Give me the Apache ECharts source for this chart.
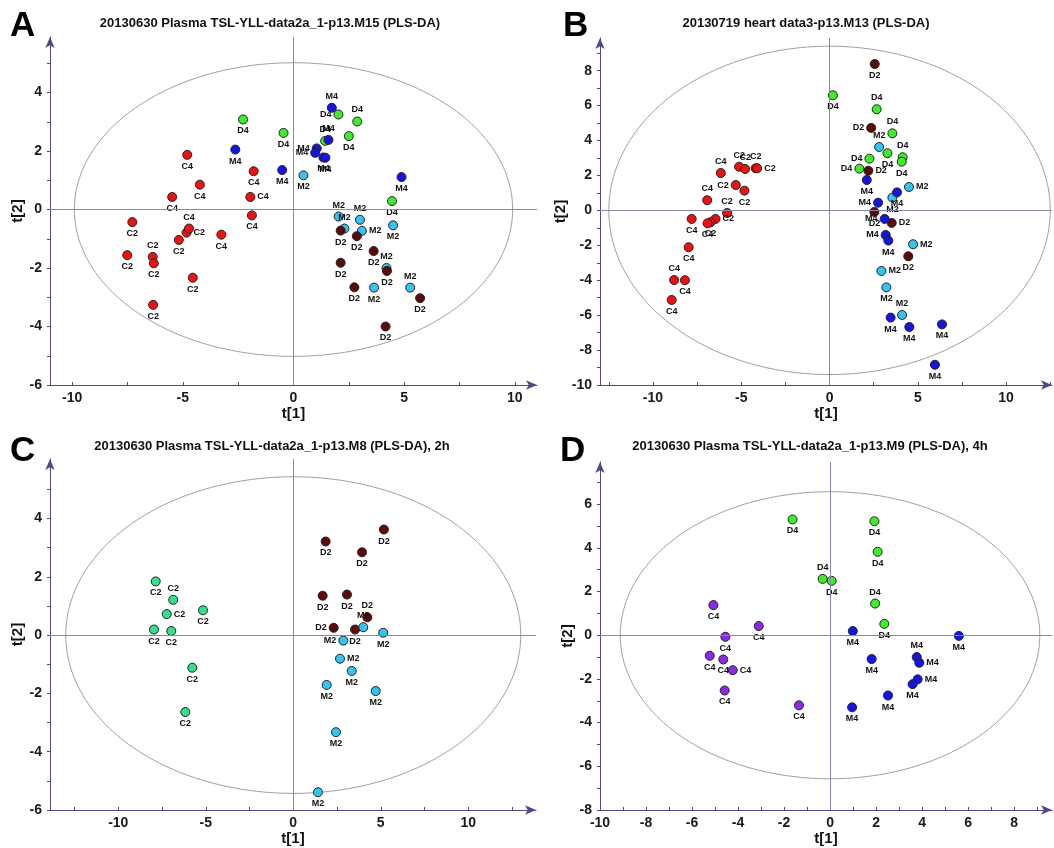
<!DOCTYPE html>
<html><head><meta charset="utf-8">
<script src="https://cdn.jsdelivr.net/npm/echarts@6/dist/echarts.min.js"></script>
<style>html,body{margin:0;padding:0;background:#fff}#c{width:1054px;height:848px}</style>
</head><body><div id="c"></div>
<script>
// ---------- Panel A ----------
const titleA = '20130630 Plasma TSL-YLL-data2a_1-p13.M15 (PLS-DA)';
const A_C2 = [[-7.28,-0.43],[-5.18,-1.04],[-7.51,-1.56],[-6.36,-1.62],[-6.31,-1.84],[-4.55,-2.33],[-6.34,-3.26],[-4.83,-0.79]];
const A_C4 = [[-4.8,1.87],[-1.8,1.31],[-4.23,0.85],[-5.48,0.43],[-1.95,0.43],[-1.88,-0.2],[-4.72,-0.65],[-3.26,-0.86]];
const A_D4 = [[-2.28,3.08],[-0.45,2.62],[2.03,3.25],[2.88,3.01],[1.43,2.35],[2.5,2.51],[4.45,0.29]];
const A_M4 = [[-2.63,2.05],[-0.51,1.35],[1.73,3.48],[1.58,2.38],[1.05,2.09],[0.98,1.94],[1.35,1.78],[1.44,1.77],[4.88,1.11]];
const A_M2 = [[0.45,1.17],[2.04,-0.24],[3.0,-0.35],[2.3,-0.65],[3.09,-0.73],[4.5,-0.54],[4.2,-2.0],[3.64,-2.67],[5.27,-2.67]];
const A_D2 = [[2.13,-0.72],[2.86,-0.91],[3.62,-1.42],[2.13,-1.82],[4.22,-2.1],[2.75,-2.66],[5.72,-3.03],[4.16,-4.0]];
const ellipseA = [9.9, 5.02];
const xTicksA = [-10,-7.5,-5,-2.5,0,2.5,5,7.5,10];
const xLabelsA = [-10,-5,0,5,10];
const yTicksA = [-6,-5,-4,-3,-2,-1,0,1,2,3,4,5];
const yLabelsA = [-6,-4,-2,0,2,4];

// ---------- Panel B ----------
const titleB = '20130719 heart data3-p13.M13 (PLS-DA)';
const B_C2 = [[-5.12,2.5],[-4.78,2.37],[-4.18,2.41],[-4.1,2.41],[-5.31,1.45],[-4.82,1.13],[-5.8,-0.15],[-6.46,-0.49],[-6.74,-0.68]];
const B_C4 = [[-6.16,2.14],[-6.93,0.58],[-7.81,-0.49],[-6.91,-0.74],[-7.98,-2.11],[-8.8,-3.99],[-8.19,-4.0],[-8.94,-5.13]];
const B_D2 = [[2.56,8.38],[2.36,4.72],[2.2,2.27],[2.54,-0.09],[3.52,-0.72],[4.46,-2.63]];
const B_D4 = [[0.19,6.59],[2.67,5.79],[3.56,4.41],[3.28,3.27],[4.14,3.04],[4.09,2.79],[2.26,2.96],[1.69,2.39]];
const B_M2 = [[2.81,3.63],[4.5,1.34],[3.56,0.73],[4.73,-1.94],[2.94,-3.47],[3.22,-4.41],[4.11,-5.99]];
const B_M4 = [[2.11,1.74],[3.82,1.03],[2.75,0.44],[3.12,-0.49],[3.18,-1.41],[3.33,-1.73],[3.46,-6.14],[4.52,-6.68],[6.37,-6.53],[5.97,-8.84]];
const ellipseB = [12.5, 9.4];
const xTicksB = [-12.5,-10,-7.5,-5,-2.5,0,2.5,5,7.5,10,12.5];
const xLabelsB = [-10,-5,0,5,10];
const yTicksB = [-10,-9,-8,-7,-6,-5,-4,-3,-2,-1,0,1,2,3,4,5,6,7,8,9];
const yLabelsB = [-10,-8,-6,-4,-2,0,2,4,6,8];

// ---------- Panel C ----------
const titleC = '20130630 Plasma TSL-YLL-data2a_1-p13.M8 (PLS-DA), 2h';
const C_C2 = [[-7.86,1.84],[-6.86,1.21],[-7.23,0.72],[-5.16,0.85],[-7.96,0.19],[-6.97,0.14],[-5.77,-1.12],[-6.17,-2.64]];
const C_D2 = [[5.18,3.62],[1.85,3.21],[3.93,2.84],[1.68,1.35],[3.07,1.39],[4.23,0.61],[2.31,0.25],[3.53,0.19]];
const C_M2 = [[4.0,0.27],[5.14,0.08],[2.86,-0.19],[2.67,-0.81],[3.34,-1.23],[1.91,-1.71],[4.71,-1.92],[2.44,-3.33],[1.41,-5.39]];
const ellipseC = [13.0, 5.43];
const xTicksC = [-12.5,-10,-7.5,-5,-2.5,0,2.5,5,7.5,10,12.5];
const xLabelsC = [-10,-5,0,5,10];
const yTicksC = [-6,-5,-4,-3,-2,-1,0,1,2,3,4,5];
const yLabelsC = [-6,-4,-2,0,2,4];

// ---------- Panel D ----------
const titleD = '20130630 Plasma TSL-YLL-data2a_1-p13.M9 (PLS-DA), 4h';
const D_C4 = [[-5.07,1.38],[-3.1,0.42],[-4.55,-0.07],[-5.23,-0.94],[-4.64,-1.11],[-4.23,-1.6],[-4.58,-2.53],[-1.35,-3.21]];
const D_D4 = [[-1.63,5.3],[1.93,5.22],[2.07,3.82],[-0.32,2.58],[0.07,2.49],[1.96,1.45],[2.36,0.52]];
const D_M4 = [[0.99,0.19],[5.6,-0.03],[3.77,-1.0],[3.88,-1.26],[1.81,-1.09],[3.81,-2.02],[3.59,-2.24],[2.52,-2.76],[0.96,-3.3]];
const ellipseD = [9.12, 6.57];
const xTicksD = [-10,-9,-8,-7,-6,-5,-4,-3,-2,-1,0,1,2,3,4,5,6,7,8,9];
const xLabelsD = [-10,-8,-6,-4,-2,0,2,4,6,8];
const yTicksD = [-8,-7,-6,-5,-4,-3,-2,-1,0,1,2,3,4,5,6,7];
const yLabelsD = [-8,-6,-4,-2,0,2,4,6];

// ---------- point-label placement (style only; default is below the point) ----------
const labelPlacement = {
  A_C2:{3:'top',7:'right'},
  A_C4:{4:'right',6:'top'},
  A_D4:{2:'left',3:'top',4:'top'},
  A_M4:{2:'top',3:'top',4:'left',5:'left'},
  A_M2:{1:'top',2:'top',3:'top',4:'right',6:'top',8:'top'},
  B_C2:{0:'top',1:'top',2:'top',3:'right',4:'left',6:'top',7:'right'},
  B_C4:{0:'top',1:'top',5:'top'},
  B_D2:{1:'left',2:'right',4:'right'},
  B_D4:{1:'top',2:'top',4:'top',6:'left',7:'left'},
  B_M2:{0:'top',1:'right',3:'right',4:'right',6:'top'},
  B_M4:{2:'left',3:'left',4:'left'},
  C_C2:{1:'top',2:'right'},
  C_D2:{5:'top',6:'left'},
  C_M2:{0:'top',2:'left',3:'right'},
  D_C4:{5:'right'},
  D_D4:{3:'top',5:'top'},
  D_M4:{2:'top',3:'right',5:'right'}
};

// ---------- styling / layout ----------
const FONT = '"Liberation Sans", Arial, sans-serif';
const COL = {
  red:'#ee1111', green:'#3fee2a', blue:'#1414e6', cyan:'#35c3f2', maroon:'#5c0a0a',
  mint:'#33e08c', purple:'#8c2ae8'
};
const AXIS_COL = '#4b4b85';

const panels = [
  { grid:{left:50, top:37, width:487, height:348}, x:[-11,11], y:[-6,5.9],
    xTicks:xTicksA, xLabels:xLabelsA, yTicks:yTicksA, yLabels:yLabelsA, ellipse:ellipseA,
    title:titleA, tx:270, ty:23, letter:'A', lx:10, ly:26,
    groups:[['A_C2','C2',A_C2,COL.red],['A_C4','C4',A_C4,COL.red],['A_D4','D4',A_D4,COL.green],['A_M4','M4',A_M4,COL.blue],['A_M2','M2',A_M2,COL.cyan],['A_D2','D2',A_D2,COL.maroon]] },
  { grid:{left:600, top:38, width:452, height:347}, x:[-13,12.6], y:[-10,9.87],
    xTicks:xTicksB, xLabels:xLabelsB, yTicks:yTicksB, yLabels:yLabelsB, ellipse:ellipseB,
    title:titleB, tx:806, ty:23, letter:'B', lx:563, ly:26,
    groups:[['B_C2','C2',B_C2,COL.red],['B_C4','C4',B_C4,COL.red],['B_D4','D4',B_D4,COL.green],['B_D2','D2',B_D2,COL.maroon],['B_M2','M2',B_M2,COL.cyan],['B_M4','M4',B_M4,COL.blue]] },
  { grid:{left:50, top:459, width:486, height:351}, x:[-13.9,13.87], y:[-6,6.04],
    xTicks:xTicksC, xLabels:xLabelsC, yTicks:yTicksC, yLabels:yLabelsC, ellipse:ellipseC,
    title:titleC, tx:272, ty:446, letter:'C', lx:10, ly:451,
    groups:[['C_C2','C2',C_C2,COL.mint],['C_D2','D2',C_D2,COL.maroon],['C_M2','M2',C_M2,COL.cyan]] },
  { grid:{left:600, top:462, width:452, height:348}, x:[-10,9.65], y:[-8,7.93],
    xTicks:xTicksD, xLabels:xLabelsD, yTicks:yTicksD, yLabels:yLabelsD, ellipse:ellipseD,
    title:titleD, tx:810, ty:446, letter:'D', lx:560, ly:451,
    groups:[['D_C4','C4',D_C4,COL.purple],['D_D4','D4',D_D4,COL.green],['D_M4','M4',D_M4,COL.blue]] }
];

const grid = [], xAxis = [], yAxis = [], series = [], graphic = [];
panels.forEach((p, i) => {
  grid.push(Object.assign({containLabel:false}, p.grid));
  const axisLine = {show:true, onZero:false, symbol:['none','arrow'], symbolSize:[7,11],
                    lineStyle:{color:AXIS_COL, width:1}};
  const labelStyle = {fontSize:14, fontWeight:'bold', color:'#1a1a1a', fontFamily:FONT};
  xAxis.push({type:'value', gridIndex:i, min:p.x[0], max:p.x[1],
    name:'t[1]', nameLocation:'middle', nameGap:21,
    nameTextStyle:{fontSize:15, fontWeight:'bold', color:'#111', fontFamily:FONT},
    axisLine, splitLine:{show:false},
    axisTick:{show:true, inside:true, length:3, customValues:p.xTicks, lineStyle:{color:AXIS_COL}},
    axisLabel:Object.assign({customValues:p.xLabels, margin:6}, labelStyle)});
  yAxis.push({type:'value', gridIndex:i, min:p.y[0], max:p.y[1],
    name:'t[2]', nameLocation:'middle', nameGap:22,
    nameTextStyle:{fontSize:15, fontWeight:'bold', color:'#111', fontFamily:FONT},
    axisLine, splitLine:{show:false},
    axisTick:{show:true, inside:false, length:3, customValues:p.yTicks, lineStyle:{color:AXIS_COL}},
    axisLabel:Object.assign({customValues:p.yLabels, margin:8}, labelStyle)});
  series.push({
    type:'custom', xAxisIndex:i, yAxisIndex:i, data:[p.ellipse], silent:true, z:1,
    renderItem:(params, api) => {
      const a = api.value(0), b = api.value(1), pts = [];
      for (let k = 0; k <= 240; k++) {
        const t = k / 240 * 2 * Math.PI;
        pts.push(api.coord([a * Math.cos(t), b * Math.sin(t)]));
      }
      return {type:'polyline', shape:{points:pts}, style:{stroke:'#a0a0a0', fill:null, lineWidth:1}};
    },
    markLine:{silent:true, symbol:['none','none'], label:{show:false}, animation:false,
      lineStyle:{color:'#8686b2', width:1, type:'solid'},
      data:[{xAxis:0},{yAxis:0}]}
  });
  p.groups.forEach(([key, name, data, color]) => {
    const place = labelPlacement[key] || {};
    const items = data.map((v, j) => place[j] ? {value:v, label:{position:place[j]}} : {value:v});
    series.push({type:'scatter', name, xAxisIndex:i, yAxisIndex:i, data:items, z:3,
      symbol:'circle', symbolSize:9,
      itemStyle:{color, borderColor:'#222', borderWidth:1, opacity:1},
      label:{show:true, position:'bottom', distance:2, formatter:name,
        fontSize:9, fontWeight:'bold', color:'#111', fontFamily:FONT}});
  });
  graphic.push({type:'text', x:p.tx, y:p.ty, silent:true,
    style:{text:p.title, fontSize:13, fontWeight:'bold', fontFamily:FONT, fill:'#111',
      align:'center', verticalAlign:'middle', textAlign:'center', textVerticalAlign:'middle'}});
  graphic.push({type:'text', x:p.lx, y:p.ly, silent:true,
    style:{text:p.letter, fontSize:35, fontWeight:'bold', fontFamily:FONT, fill:'#000',
      align:'left', verticalAlign:'middle', textAlign:'left', textVerticalAlign:'middle'}});
});

const chart = echarts.init(document.getElementById('c'), null, {renderer:'canvas'});
chart.setOption({animation:false, backgroundColor:'#fff', grid, xAxis, yAxis, series, graphic});
</script></body></html>
